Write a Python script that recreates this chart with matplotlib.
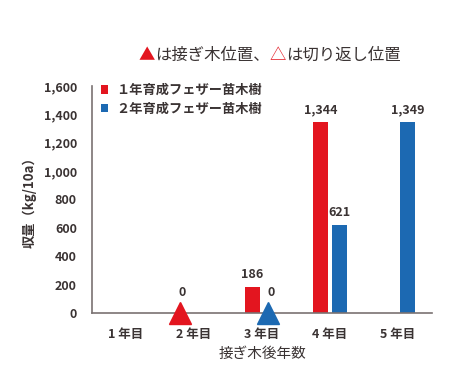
import matplotlib.pyplot as plt
import numpy as np

plt.rcParams['font.family'] = ['Noto Sans CJK JP', 'DejaVu Sans']

years = ["1 年目", "2 年目", "3 年目", "4 年目", "5 年目"]
series_names = ["１年育成フェザー苗木樹", "２年育成フェザー苗木樹"]
yield_1yr = [np.nan, 0, 186, 1344, np.nan]
yield_2yr = [np.nan, np.nan, 0, 621, 1349]
graft_year_1yr = 1   # index of 2年目
graft_year_2yr = 2   # index of 3年目

RED = "#E3151F"
BLUE = "#1C69B2"
TXT = "#3a3333"

fig = plt.figure(figsize=(4.65, 3.69), dpi=100)
ax = fig.add_axes([0.198, 0.152, 0.731, 0.615])

x = np.arange(len(years))
off = 0.14
w = 0.23
ax.bar(x - off, yield_1yr, width=w, color=RED, label=series_names[0])
ax.bar(x + off, yield_2yr, width=w, color=BLUE, label=series_names[1])

# graft position triangles
ax.plot(x[graft_year_1yr] - 0.2, 0, marker="^", markersize=16, color=RED,
        clip_on=False, zorder=5, linestyle="none")
ax.plot(x[graft_year_2yr] + 0.09, 0, marker="^", markersize=16, color=BLUE,
        clip_on=False, zorder=5, linestyle="none")

# value labels
for i, v in enumerate(yield_1yr):
    if not np.isnan(v):
        dy = 95 if v == 0 else 40
        xp = x[i] - off if v else x[i] - 0.17
        ax.text(xp, v + dy, f"{int(v):,}",
                ha="center", va="bottom", fontsize=9, fontweight="bold", color=TXT)
for i, v in enumerate(yield_2yr):
    if not np.isnan(v):
        dy = 95 if v == 0 else 40
        xp = x[i] + off if v else x[i] + 0.13
        ax.text(xp, v + dy, f"{int(v):,}",
                ha="center", va="bottom", fontsize=9, fontweight="bold", color=TXT)

ax.set_xlim(-0.5, 4.5)
ax.set_ylim(0, 1600)
ax.set_yticks(range(0, 1601, 200))
ax.set_yticklabels([f"{t:,}" for t in range(0, 1601, 200)])
ax.set_xticks(x)
ax.set_xticklabels(years)
ax.tick_params(length=0, labelsize=9, colors=TXT)
for lab in ax.get_xticklabels() + ax.get_yticklabels():
    lab.set_fontweight("bold")
ax.tick_params(axis="y", pad=11)
ax.tick_params(axis="x", pad=11)

for s in ["top", "right"]:
    ax.spines[s].set_visible(False)
for s in ["left", "bottom"]:
    ax.spines[s].set_color("#7a7272")
    ax.spines[s].set_linewidth(1.2)

ax.set_xlabel("接ぎ木後年数", fontsize=10.5, color=TXT, labelpad=4)
ax.set_ylabel("収量（kg/10a）", fontsize=9.5, color=TXT, fontweight="bold", labelpad=5)

leg = ax.legend(loc="upper left", bbox_to_anchor=(-0.01, 1.065), frameon=False,
                handlelength=0.6, handleheight=0.6, handletextpad=0.6,
                labelspacing=0.35, fontsize=9.5)
for t in leg.get_texts():
    t.set_color(TXT)
    t.set_fontweight("bold")

# title with coloured triangles
t1 = fig.text(0.298, 0.85, "▲", color=RED, fontsize=11.8, va="center")
t2 = ax.annotate("は接ぎ木位置、", xy=(1, 0), xycoords=t1, va="bottom",
                 fontsize=11.8, color=TXT, annotation_clip=False)
t3 = ax.annotate("△", xy=(1, 0), xycoords=t2, va="bottom",
                 fontsize=11.8, color=RED, annotation_clip=False)
ax.annotate("は切り返し位置", xy=(1, 0), xycoords=t3, va="bottom",
            fontsize=11.8, color=TXT, annotation_clip=False)

fig.savefig("out.png", dpi=100)
